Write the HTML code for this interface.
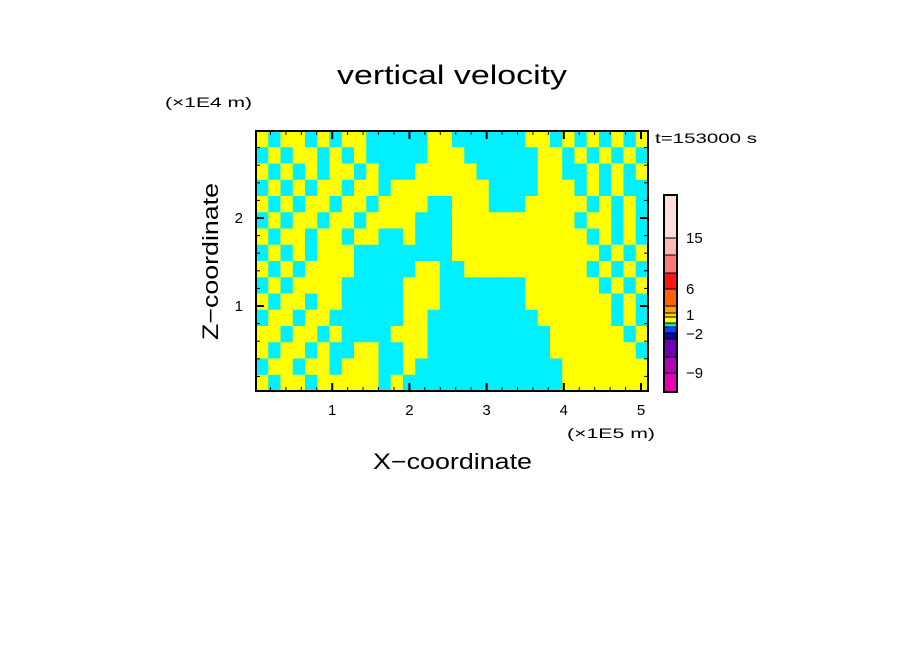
<!DOCTYPE html>
<html><head><meta charset="utf-8"><style>
html,body{margin:0;padding:0;background:#fff;}
svg{display:block;font-family:"Liberation Sans",sans-serif;}
</style></head><body>
<svg id="chart" width="904" height="654" viewBox="0 0 904 654">
<text x="337" y="84" textLength="230" lengthAdjust="spacingAndGlyphs" font-size="27">vertical velocity</text>
<text x="165" y="107" textLength="87" lengthAdjust="spacingAndGlyphs" font-size="14">(×1E4 m)</text>
<text x="567" y="438" textLength="88" lengthAdjust="spacingAndGlyphs" font-size="14">(×1E5 m)</text>
<text x="655" y="143" textLength="102" lengthAdjust="spacingAndGlyphs" font-size="14">t=153000 s</text>
<text x="373" y="469" textLength="159" lengthAdjust="spacingAndGlyphs" font-size="22">X−coordinate</text>
<text transform="translate(218,340) rotate(-90)" textLength="157" lengthAdjust="spacingAndGlyphs" font-size="22">Z−coordinate</text>
<g id="field"></g>
<g id="ticks"></g>
<rect x="256" y="131" width="392" height="260" fill="none" stroke="#000" stroke-width="2"/>
<g id="cbar"></g>
</svg>
<script>
const rows = [
"YCYYCYCYYCCCCCYYCCCCCCYYCYCYCYCY",
"CYCYYCYCYCCCCCYYYCCCCCCYYCYCYCYC",
"YCYCYCYYCYCCCYYYYYCCCCCYYCCYCYCY",
"CYCYCYYCYYCYYYYYYYYCCCCYYYCYCYCC",
"YCYCYYCYYCYYYYCCYYYCCCYYYYYCYCYC",
"CYCYYCYYCYYYYCCCYYYYYYYYYYCYYCYC",
"YCYYCYYCYYCCYCCCYYYYYYYYYYYCYCYC",
"CYCYCYYYCCCCCCCCYYYYYYYYYYYYCYCY",
"YCYCYYYYCCCCCYYCCYYYYYYYYYYCYCYC",
"CYCYYYYCCCCCYYYCCCCCCCYYYYYYCYCY",
"YCYYCYYCCCCCYYYCCCCCCCYYYYYYYCYC",
"CYYCYYCCCCCCYYCCCCCCCCCYYYYYYCYC",
"YYCYYCYCCCCYYYCCCCCCCCCCYYYYYYCY",
"YCYYCYCCYYCCYYCCCCCCCCCCYYYYYYYC",
"CYYCYYCYYYCCYCCCCCCCCCCCCYYYYYYY",
"YCYYCYYYYYCYCCCCCCCCCCCCCYYYYYYY"
];
const xTicks = [1,2,3,4,5];
const yTicks = [1,2];
const cbColors = ["#e600b4","#b400b4","#6e00b4","#0a0a9a","#0046ff","#00dcff","#ffff00","#ffd200","#ffa000","#ff6400","#ff1414","#ff7878","#ffb8b8","#ffdede"];
const cbBounds = [392,373,357,339,333,327,323,317,313,306,289,273,255,238,195];
const cbLabels = ["15","6","1","−2","−9"];
const cbLabelY = [243,294,320,339,378];
const NS="http://www.w3.org/2000/svg";
const X0=256,X1=648,Y0=131,Y1=391;
const xs=v=>255+v*77.2, ys=v=>394-v*88;
const f=document.getElementById('field');
const nr=rows.length,nc=rows[0].length,cw=(X1-X0)/nc,ch=(Y1-Y0)/nr;
rows.forEach((r,i)=>{for(let j=0;j<nc;j++){
 const e=document.createElementNS(NS,'rect');
 e.setAttribute('x',X0+j*cw);e.setAttribute('y',Y0+i*ch);
 e.setAttribute('width',cw+0.6);e.setAttribute('height',ch+0.6);
 e.setAttribute('fill',r[j]==='Y'?'#ffff00':'#00f0ff');
 
 
 f.appendChild(e);}});
const t=document.getElementById('ticks');
function line(x1,y1,x2,y2,w){const l=document.createElementNS(NS,'line');
 l.setAttribute('x1',x1);l.setAttribute('y1',y1);l.setAttribute('x2',x2);l.setAttribute('y2',y2);
 l.setAttribute('stroke','#000');l.setAttribute('stroke-width',w);t.appendChild(l);return l;}
for(let k=1;k<=25;k++){const v=k*0.2,x=xs(v);if(x>X1-1)break;const maj=k%5===0;const L=maj?8:4;
 line(x,Y1,x,Y1-L,maj?2:1);line(x,Y0,x,Y0+L,maj?2:1);}
for(let k=1;k<=15;k++){const v=k*0.2,y=ys(v);if(y<Y0+1)break;const maj=k%5===0;const L=maj?8:4;
 line(X0,y,X0+L,y,maj?2:1);line(X1,y,X1-L,y,maj?2:1);}
xTicks.forEach(v=>{const e=document.createElementNS(NS,'text');e.setAttribute('x',xs(v));e.setAttribute('y',415);
 e.setAttribute('text-anchor','middle');e.setAttribute('font-size','15');e.textContent=v;
 
 
 t.appendChild(e);});
yTicks.forEach(v=>{const e=document.createElementNS(NS,'text');e.setAttribute('x',243);e.setAttribute('y',ys(v)+5);
 e.setAttribute('text-anchor','end');e.setAttribute('font-size','15');e.textContent=v;
 
 
 t.appendChild(e);});
const cb=document.getElementById('cbar');
cbColors.forEach((c,i)=>{const e=document.createElementNS(NS,'rect');
 const yb=cbBounds[i],yt=cbBounds[i+1];
 e.setAttribute('x',664);e.setAttribute('y',yt);e.setAttribute('width',13);e.setAttribute('height',yb-yt);
 e.setAttribute('fill',c);e.setAttribute('stroke','#000');e.setAttribute('stroke-width','1');
 
 
 cb.appendChild(e);});
const fr=document.createElementNS(NS,'rect');fr.setAttribute('x',664);fr.setAttribute('y',195);fr.setAttribute('width',13);fr.setAttribute('height',197);
fr.setAttribute('fill','none');fr.setAttribute('stroke','#000');fr.setAttribute('stroke-width','2');cb.appendChild(fr);
cbLabels.forEach((s,i)=>{const e=document.createElementNS(NS,'text');e.setAttribute('x',686);e.setAttribute('y',cbLabelY[i]);
 e.setAttribute('font-size','15');e.textContent=s;
 
 
 cb.appendChild(e);});
</script>
</body></html>
